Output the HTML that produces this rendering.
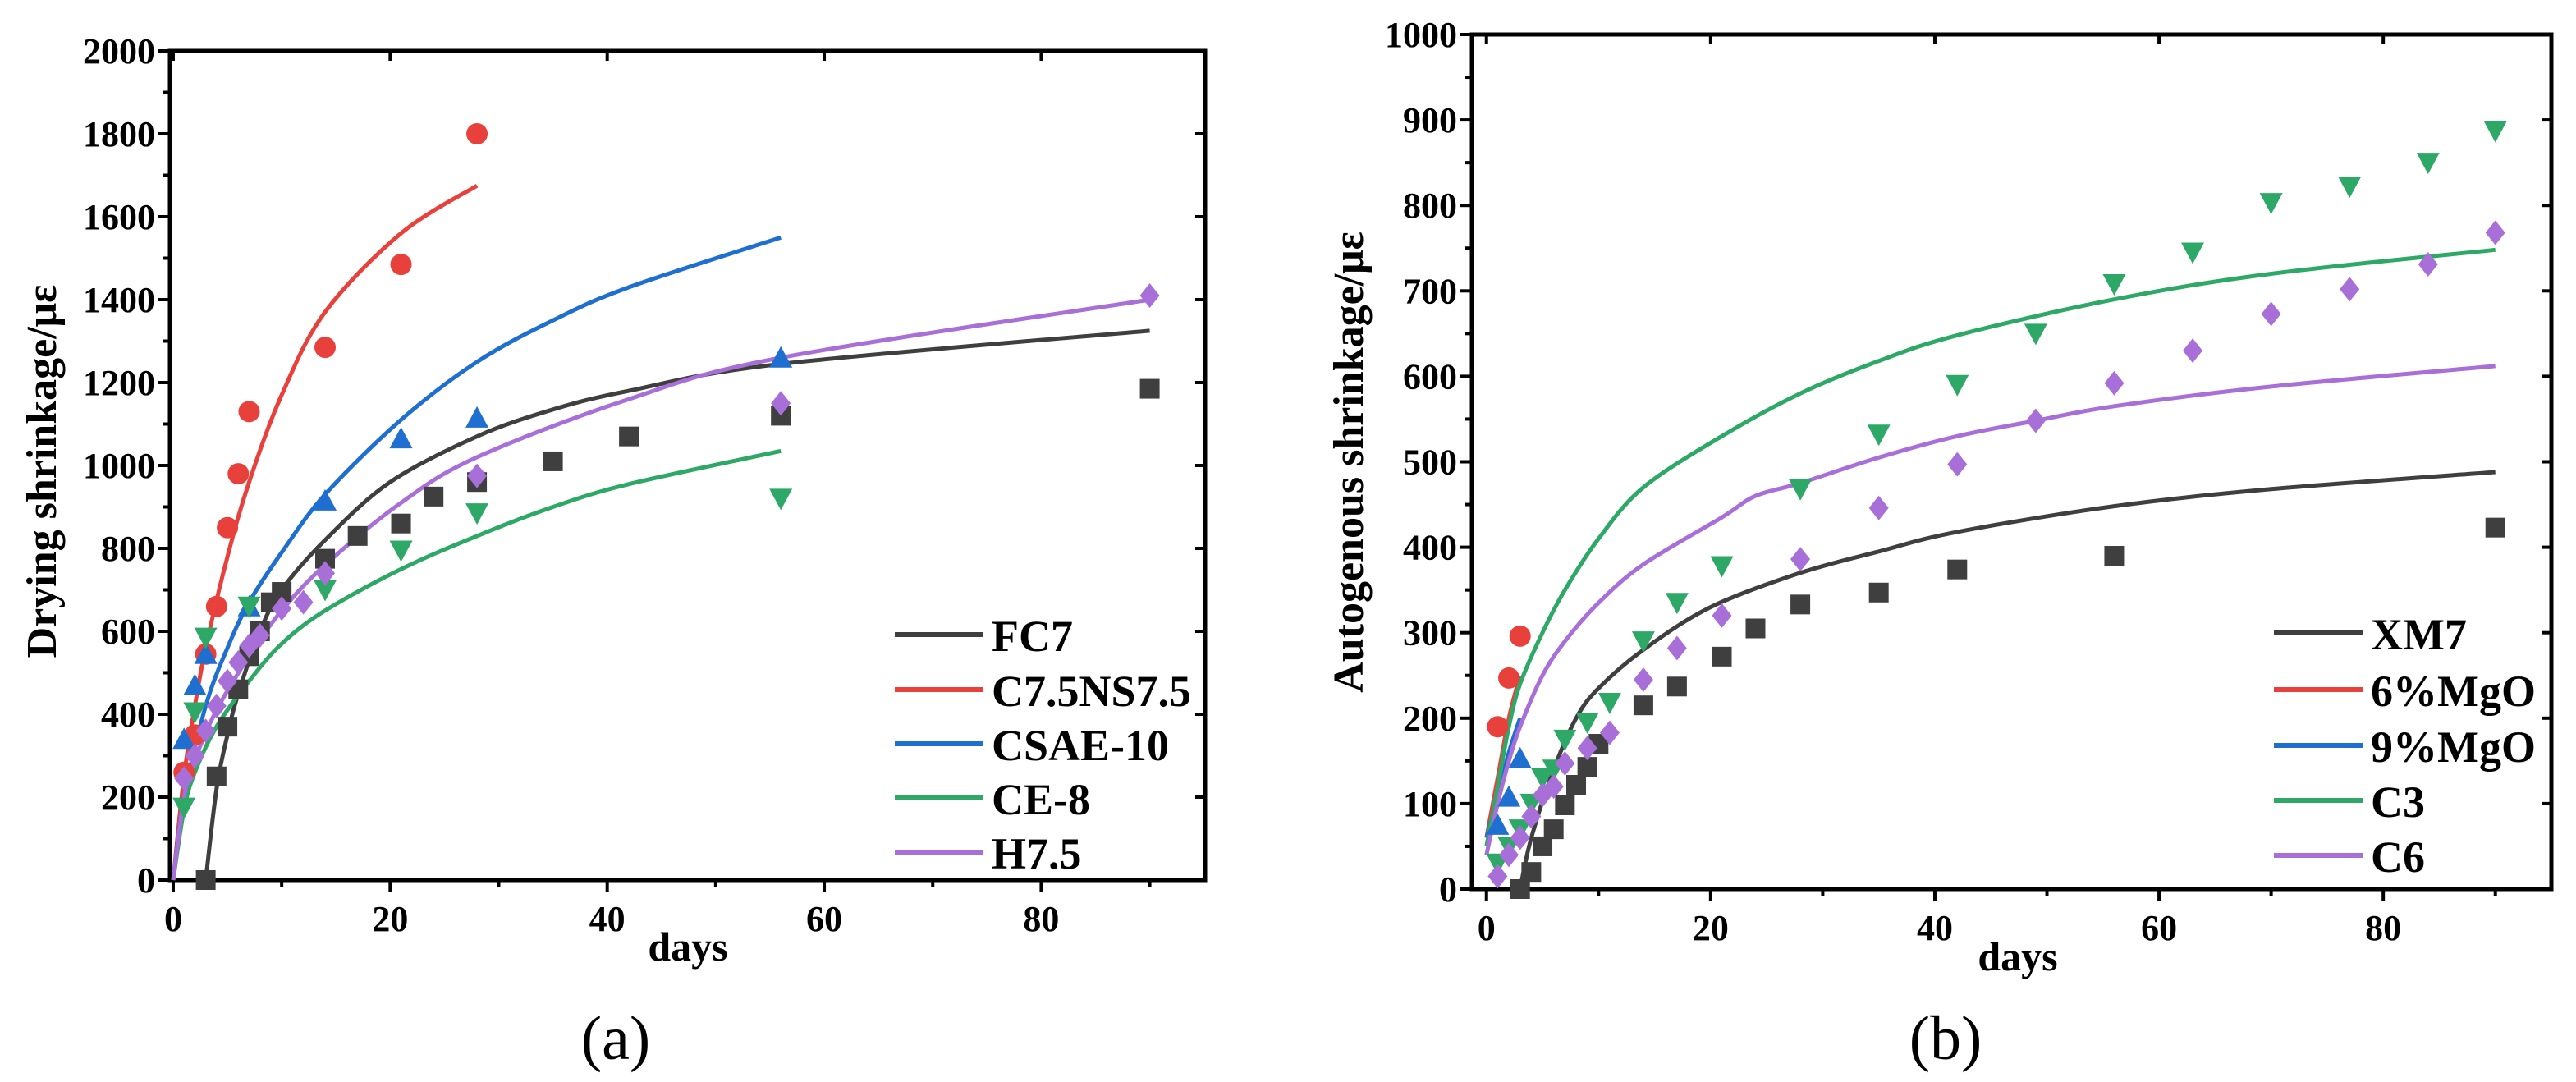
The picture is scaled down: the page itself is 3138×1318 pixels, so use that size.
<!DOCTYPE html>
<html><head><meta charset="utf-8"><style>
html,body{margin:0;padding:0;background:#fff;}
svg{display:block;font-family:"Liberation Serif",serif;}
</style></head><body>
<svg id="fig" width="3138" height="1318" viewBox="0 0 3138 1318" xmlns="http://www.w3.org/2000/svg"></svg>
<script>
// ---------- Panel (a) data: drying shrinkage ----------
const aXTicks = [0, 20, 40, 60, 80];
const aYTicks = [0, 200, 400, 600, 800, 1000, 1200, 1400, 1600, 1800, 2000];
const aNames = ["FC7", "C7.5NS7.5", "CSAE-10", "CE-8", "H7.5"];
const aFC7Days = [3,4,5,6,7,8,9,10,14,17,21,24,28,35,42,56,90];
const aFC7Vals = [0,250,370,460,540,600,670,695,775,830,860,925,960,1010,1070,1120,1185];
const aC75Days = [1,2,3,4,5,6,7,14,21,28];
const aC75Vals = [260,350,545,660,850,980,1130,1285,1485,1800];
const aCSAEDays = [1,2,3,7,14,21,28,56];
const aCSAEVals = [340,470,545,660,915,1065,1115,1260];
const aCE8Days = [1,2,3,7,14,21,28,56];
const aCE8Vals = [175,405,585,660,700,795,885,920];
const aH75Days = [1,2,3,4,5,6,7,8,10,12,14,28,56,90];
const aH75Vals = [245,300,360,420,480,525,565,590,655,670,740,975,1150,1410];
// fitted curves
const aFC7FitDays = [3,4,5,6,8,10,14,20,28,35,42,56,90];
const aFC7FitVals = [0,220,350,450,600,700,820,960,1070,1135,1180,1245,1325];
const aC75FitDays = [0,1,2,3,5,7,10,14,21,28];
const aC75FitVals = [0,250,420,560,780,960,1170,1370,1560,1675];
const aCSAEFitDays = [0,1,3,5,7,10,14,21,28,35,42,56];
const aCSAEFitVals = [0,200,420,560,670,790,930,1110,1250,1350,1430,1550];
const aCE8FitDays = [0,1,2,4,7,10,14,21,28,35,42,56];
const aCE8FitVals = [0,170,260,370,480,570,650,750,830,900,955,1035];
const aH75FitDays = [0,1,2,4,7,10,14,21,28,42,56,90];
const aH75FitVals = [0,200,290,410,540,650,760,910,1020,1160,1260,1400];

// ---------- Panel (b) data: autogenous shrinkage ----------
const bXTicks = [0, 20, 40, 60, 80];
const bYTicks = [0,100,200,300,400,500,600,700,800,900,1000];
const bNames = ["XM7", "6%MgO", "9%MgO", "C3", "C6"];
const bXM7Days = [3,4,5,6,7,8,9,10,14,17,21,24,28,35,42,56,90];
const bXM7Vals = [0,20,50,70,98,122,143,170,215,237,272,305,333,347,374,390,423];
const bMg6Days = [1,2,3];
const bMg6Vals = [190,247,296];
const bMg9Days = [1,2,3];
const bMg9Vals = [75,108,153];
const bC3Days = [1,2,3,4,5,6,7,9,11,14,17,21,28,35,42,49,56,63,70,77,84,90];
const bC3Vals = [30,50,70,100,130,140,175,195,218,290,335,378,468,532,590,650,708,745,803,822,850,887];
const bC6Days = [1,2,3,4,5,6,7,9,11,14,17,21,28,35,42,49,56,63,70,77,84,90];
const bC6Vals = [15,40,60,85,110,120,147,165,183,245,282,320,386,446,497,548,592,630,673,702,731,768];
const bXM7FitDays = [3,4,6,8,10,14,20,28,35,42,56,70,90];
const bXM7FitVals = [0,60,140,200,235,280,330,370,395,418,448,468,488];
const bMg6FitDays = [0,1,2,3];
const bMg6FitVals = [60,130,200,250];
const bMg9FitDays = [0,1,2,3];
const bMg9FitVals = [60,110,160,200];
const bC3FitDays = [0,1,2,3,5,7,10,14,21,28,35,42,56,70,90];
const bC3FitVals = [50,120,190,240,300,350,410,470,530,580,618,648,690,720,748];
const bC6FitDays = [0,1,2,3,5,7,10,14,21,24,28,35,42,49,56,70,90];
const bC6FitVals = [40,100,150,190,250,290,335,380,435,460,475,505,530,548,565,588,612];

const NS = "http://www.w3.org/2000/svg";
const svg = document.getElementById("fig");
const COL = {gray:"#3f3f3f", red:"#e8413c", blue:"#1f6fd1", green:"#2ea866", purple:"#a86fd9"};

function mk(tag, attrs, parent){
  const e = document.createElementNS(NS, tag);
  for (const k in attrs) e.setAttribute(k, attrs[k]);
  (parent||svg).appendChild(e);
  return e;
}

function makePanel(p){
  const g = mk("g", {});
  
  
  const sx = v => p.x0 + (v - p.xmin) / (p.xmax - p.xmin) * (p.x1 - p.x0);
  const sy = v => p.y1 - (v - p.ymin) / (p.ymax - p.ymin) * (p.y1 - p.y0);
  p.sx = sx; p.sy = sy; p.g = g;
  const fr = mk("rect", {x:p.x0, y:p.y0, width:p.x1-p.x0, height:p.y1-p.y0, fill:"none", stroke:"#000", "stroke-width":5}, g);
  
  
  p.yTicks.forEach((t, i) => {
    const y = sy(t);
    mk("line", {x1:p.x0-14, x2:p.x0, y1:y, y2:y, stroke:"#000","stroke-width":4}, g);
    mk("line", {x1:p.x1, x2:p.x1-12, y1:y, y2:y, stroke:"#000","stroke-width":4}, g);
    if (i < p.yTicks.length-1){
      const ym = sy(t + (p.yTicks[1]-p.yTicks[0])/2);
      mk("line", {x1:p.x0-8, x2:p.x0, y1:ym, y2:ym, stroke:"#000","stroke-width":4}, g);
    }
    const tx = mk("text", {x:p.x0-18, y:y+15, "text-anchor":"end", "font-size":44, "font-weight":"bold"}, g);
    tx.textContent = t;
    
    
  });
  p.xTicks.forEach(t => {
    const x = sx(t);
    mk("line", {x1:x, x2:x, y1:p.y1, y2:p.y1+14, stroke:"#000","stroke-width":4}, g);
    mk("line", {x1:x, x2:x, y1:p.y0, y2:p.y0+12, stroke:"#000","stroke-width":4}, g);
    const xm = sx(t+10);
    if (t+10 < p.xmax){
      mk("line", {x1:xm, x2:xm, y1:p.y1, y2:p.y1+8, stroke:"#000","stroke-width":4}, g);
    }
    const tx = mk("text", {x:x, y:p.y1+62, "text-anchor":"middle", "font-size":44, "font-weight":"bold"}, g);
    tx.textContent = t;
    
    
  });
  const xt = mk("text", {x:p.xtX, y:p.xtY, "text-anchor":"middle", "font-size":50, "font-weight":"bold"}, g);
  xt.textContent = "days";
  
  
  const yt = mk("text", {x:0, y:0, "text-anchor":"middle", "font-size":52, "font-weight":"bold", transform:`translate(${p.ytX},${p.ytY}) rotate(-90)`}, g);
  yt.textContent = p.yTitle;
  
  
  const cap = mk("text", {x:p.capX, y:p.capY, "text-anchor":"middle", "font-size":76}, g);
  cap.textContent = p.caption;
  
  
  return p;
}

function fitLine(p, days, vals, color, name){
  const pts = days.map((v,i)=>[p.sx(v), p.sy(vals[i])]);
  let d = "M" + pts[0][0].toFixed(1) + "," + pts[0][1].toFixed(1);
  for (let i = 0; i < pts.length-1; i++){
    const p0 = pts[Math.max(0,i-1)], p1 = pts[i], p2 = pts[i+1], p3 = pts[Math.min(pts.length-1,i+2)];
    const c1 = [p1[0]+(p2[0]-p0[0])/6, p1[1]+(p2[1]-p0[1])/6];
    const c2 = [p2[0]-(p3[0]-p1[0])/6, p2[1]-(p3[1]-p1[1])/6];
    d += ` C${c1[0].toFixed(1)},${c1[1].toFixed(1)} ${c2[0].toFixed(1)},${c2[1].toFixed(1)} ${p2[0].toFixed(1)},${p2[1].toFixed(1)}`;
  }
  const e = mk("path", {d:d, fill:"none", stroke:color, "stroke-width":5, "stroke-linejoin":"round"}, p.g);
  
  
}

function markers(p, days, vals, color, shape, name){
  days.forEach((dv, i) => {
    const x = p.sx(dv), y = p.sy(vals[i]);
    const r = 12;
    let e;
    if (shape === "square") e = mk("rect", {x:x-r, y:y-r, width:2*r, height:2*r, fill:color}, p.g);
    else if (shape === "circle") e = mk("circle", {cx:x, cy:y, r:r+1, fill:color}, p.g);
    else if (shape === "up") e = mk("polygon", {points:`${x},${y-r-2} ${x+r+2},${y+r} ${x-r-2},${y+r}`, fill:color}, p.g);
    else if (shape === "down") e = mk("polygon", {points:`${x-r-2},${y-r} ${x+r+2},${y-r} ${x},${y+r+2}`, fill:color}, p.g);
    else e = mk("polygon", {points:`${x},${y-r-3} ${x+r},${y} ${x},${y+r+3} ${x-r},${y}`, fill:color}, p.g);
    
    
  });
}

function legend(p, names, colors, x0, ys){
  names.forEach((n, i) => {
    const l = mk("line", {x1:x0, x2:x0+108, y1:ys[i], y2:ys[i], stroke:colors[i], "stroke-width":6}, p.g);
    
    
    const t = mk("text", {x:x0+118, y:ys[i]+20, "font-size":54, "font-weight":"bold"}, p.g);
    t.textContent = n;
    
    
  });
}

const A = makePanel({id:"panel-a", x0:207, x1:1468, y0:62, y1:1072, xmin:-0.3, xmax:95.1, ymin:0, ymax:2000,
  xTicks:aXTicks, yTicks:aYTicks, yTitle:"Drying shrinkage/με",
  xtX:838, xtY:1170, ytX:68, ytY:574, caption:"(a)", capX:750, capY:1290});
fitLine(A, aFC7FitDays, aFC7FitVals, COL.gray, "fc7");
fitLine(A, aC75FitDays, aC75FitVals, COL.red, "c7-5ns7-5");
fitLine(A, aCSAEFitDays, aCSAEFitVals, COL.blue, "csae-10");
fitLine(A, aCE8FitDays, aCE8FitVals, COL.green, "ce-8");
fitLine(A, aH75FitDays, aH75FitVals, COL.purple, "h7-5");
markers(A, aFC7Days, aFC7Vals, COL.gray, "square", "fc7");
markers(A, aC75Days, aC75Vals, COL.red, "circle", "c7-5ns7-5");
markers(A, aCSAEDays, aCSAEVals, COL.blue, "up", "csae-10");
markers(A, aCE8Days, aCE8Vals, COL.green, "down", "ce-8");
markers(A, aH75Days, aH75Vals, COL.purple, "diamond", "h7-5");
legend(A, aNames, [COL.gray, COL.red, COL.blue, COL.green, COL.purple], 1090, [773, 840, 906, 972, 1038]);

const B = makePanel({id:"panel-b", x0:1793, x1:3108, y0:42, y1:1083, xmin:-1.3, xmax:95, ymin:0, ymax:1000,
  xTicks:bXTicks, yTicks:bYTicks, yTitle:"Autogenous shrinkage/με",
  xtX:2458, xtY:1182, ytX:1660, ytY:563, caption:"(b)", capX:2370, capY:1290});
fitLine(B, bXM7FitDays, bXM7FitVals, COL.gray, "xm7");
fitLine(B, bMg6FitDays, bMg6FitVals, COL.red, "mgo-6");
fitLine(B, bMg9FitDays, bMg9FitVals, COL.blue, "mgo-9");
fitLine(B, bC3FitDays, bC3FitVals, COL.green, "c3");
fitLine(B, bC6FitDays, bC6FitVals, COL.purple, "c6");
markers(B, bXM7Days, bXM7Vals, COL.gray, "square", "xm7");
markers(B, bMg6Days, bMg6Vals, COL.red, "circle", "mgo-6");
markers(B, bMg9Days, bMg9Vals, COL.blue, "up", "mgo-9");
markers(B, bC3Days, bC3Vals, COL.green, "down", "c3");
markers(B, bC6Days, bC6Vals, COL.purple, "diamond", "c6");
legend(B, bNames, [COL.gray, COL.red, COL.blue, COL.green, COL.purple], 2770, [771, 840, 908, 975, 1042]);
</script>
</body></html>
